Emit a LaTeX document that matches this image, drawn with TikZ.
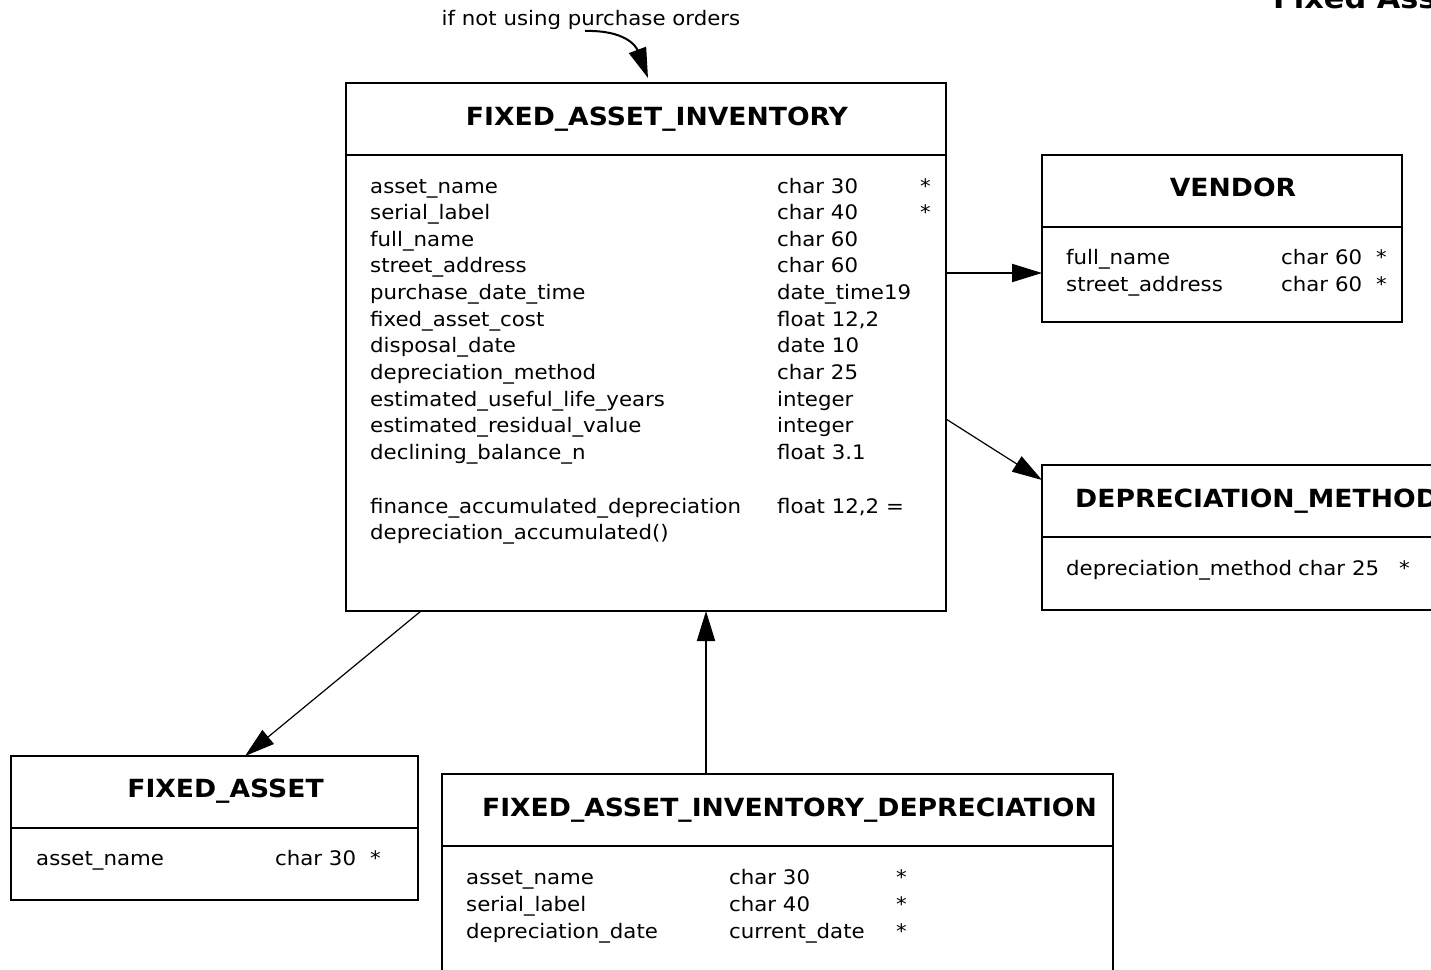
\documentclass[tikz,border=0pt]{standalone}
\usepackage{fontspec}
\setmainfont{DejaVu Sans}[FakeStretch=1.065]
\usetikzlibrary{arrows.meta,calc}

\begin{document}
\begin{tikzpicture}[x=1pt,y=-1pt,>={Triangle[length=30pt,width=18pt]}]
    \tikzstyle{entity} = [draw,line width=2pt,anchor=north west,inner sep=0pt,outer sep=0pt]
    \tikzstyle{head} = [anchor=base,inner sep=0pt,font=\fontsize{25}{30}\selectfont\bfseries]
    \tikzstyle{field} = [anchor=base west,inner sep=0pt,font=\fontsize{20}{24}\selectfont]
    \tikzstyle{link} = [->,line width=2pt]
    \tikzstyle{thinlink} = [->,line width=1.2pt]
    \useasboundingbox (0,0) rectangle (1431,969);
    \clip (0,0) rectangle (1431,969);
    \node[anchor=base west,inner sep=0pt,font=\fontsize{28.5}{34}\selectfont\bfseries] (title) at (1273,9) {Fixed Assets};
    % tables
    \node[entity,minimum width=600pt,minimum height=528pt] (fai) at (346,83) {};
    \node[entity,minimum width=360pt,minimum height=167pt] (vendor) at (1042,155) {};
    \node[entity,minimum width=400pt,minimum height=145pt] (dep) at (1042,465) {};
    \node[entity,minimum width=407pt,minimum height=144pt] (fa) at (11,756) {};
    \node[entity,minimum width=671pt,minimum height=220pt] (faid) at (442,774) {};
    \foreach \t in {fai,vendor,dep,fa,faid}
    {
      \draw[line width=2pt] ($(\t.north west)+(0,72)$) -- ($(\t.north east)+(0,72)$);
    }
    \node[head] (fai-head) at ($(fai.north)+(11,42)$) {FIXED\_ASSET\_INVENTORY};
    \node[head] (vendor-head) at ($(vendor.north)+(11,41)$) {VENDOR};
    \node[head,anchor=base west] (dep-head) at ($(dep.north west)+(33,42)$) {DEPRECIATION\_METHOD};
    \node[head] (fa-head) at ($(fa.north)+(11,41)$) {FIXED\_ASSET};
    \node[head] (faid-head) at ($(faid.north)+(12,42)$) {FIXED\_ASSET\_INVENTORY\_DEPRECIATION};
    % FIXED_ASSET_INVENTORY fields
    \foreach \f/\d [count=\i from 0] in {asset\_name/char 30,serial\_label/char 40,full\_name/char 60,street\_address/char 60,purchase\_date\_time/date\_time19,fixed\_asset\_cost/{float 12,2},disposal\_date/date 10,depreciation\_method/char 25,estimated\_useful\_life\_years/integer,estimated\_residual\_value/integer,declining\_balance\_n/float 3.1}
    {
      \node[field] (fai-f\i) at ($(fai.north west)+(24,110+26.65*\i)$) {\f};
      \node[field] (fai-d\i) at ($(fai.north west)+(431,110+26.65*\i)$) {\d};
    }
    \foreach \i in {0,1}
    {
      \node[field] (fai-k\i) at ($(fai.north west)+(574,110+26.65*\i)$) {*};
    }
    \node[field] (fai-f12) at ($(fai.north west)+(24,430)$) {finance\_accumulated\_depreciation};
    \node[field] (fai-d12) at ($(fai.north west)+(431,430)$) {float 12,2 =};
    \node[field] (fai-f13) at ($(fai.north west)+(24,456.5)$) {depreciation\_accumulated()};
    % VENDOR fields
    \foreach \f/\d [count=\i from 0] in {full\_name/char 60,street\_address/char 60}
    {
      \node[field] (vendor-f\i) at ($(vendor.north west)+(24,109.5+26.65*\i)$) {\f};
      \node[field] (vendor-d\i) at ($(vendor.north west)+(239,109.5+26.65*\i)$) {\d};
      \node[field] (vendor-k\i) at ($(vendor.north west)+(334,109.5+26.65*\i)$) {*};
    }
    % single field tables
    \node[field] (dep-f0) at ($(dep.north west)+(24,110.5)$) {depreciation\_method};
    \node[field] (dep-d0) at ($(dep.north west)+(256,110.5)$) {char 25};
    \node[field] (dep-k0) at ($(dep.north west)+(357,110.5)$) {*};
    \node[field] (fa-f0) at ($(fa.north west)+(25,109.5)$) {asset\_name};
    \node[field] (fa-d0) at ($(fa.north west)+(264,109.5)$) {char 30};
    \node[field] (fa-k0) at ($(fa.north west)+(359,109.5)$) {*};
    % FIXED_ASSET_INVENTORY_DEPRECIATION fields
    \foreach \f/\d [count=\i from 0] in {asset\_name/char 30,serial\_label/char 40,depreciation\_date/current\_date}
    {
      \node[field] (faid-f\i) at ($(faid.north west)+(24,110.5+26.8*\i)$) {\f};
      \node[field] (faid-d\i) at ($(faid.north west)+(287,110.5+26.8*\i)$) {\d};
      \node[field] (faid-k\i) at ($(faid.north west)+(454,110.5+26.8*\i)$) {*};
    }
    % connectors
    \node[field,anchor=base] (note) at (591,25) {if not using purchase orders};
    \coordinate (po) at (585,31);
    \draw[link] (po) .. controls (625,30) and (636,46) .. ($(fai.north)+(2,-5)$);
    \coordinate (fv) at ($(fai.north east)+(0,190)$);
    \draw[link] (fv) -- (vendor.west |- fv);
    \draw[thinlink] ($(fai.north east)+(0,336)$) -- ($(dep.north west)+(0,15)$);
    \draw[thinlink] ($(fai.south west)+(75,0)$) -- ($(fa.north west)+(234,0)$);
    \coordinate (df) at ($(faid.north west)+(264,0)$);
    \draw[link] (df) -- (fai.south -| df);
\end{tikzpicture}
\end{document}
